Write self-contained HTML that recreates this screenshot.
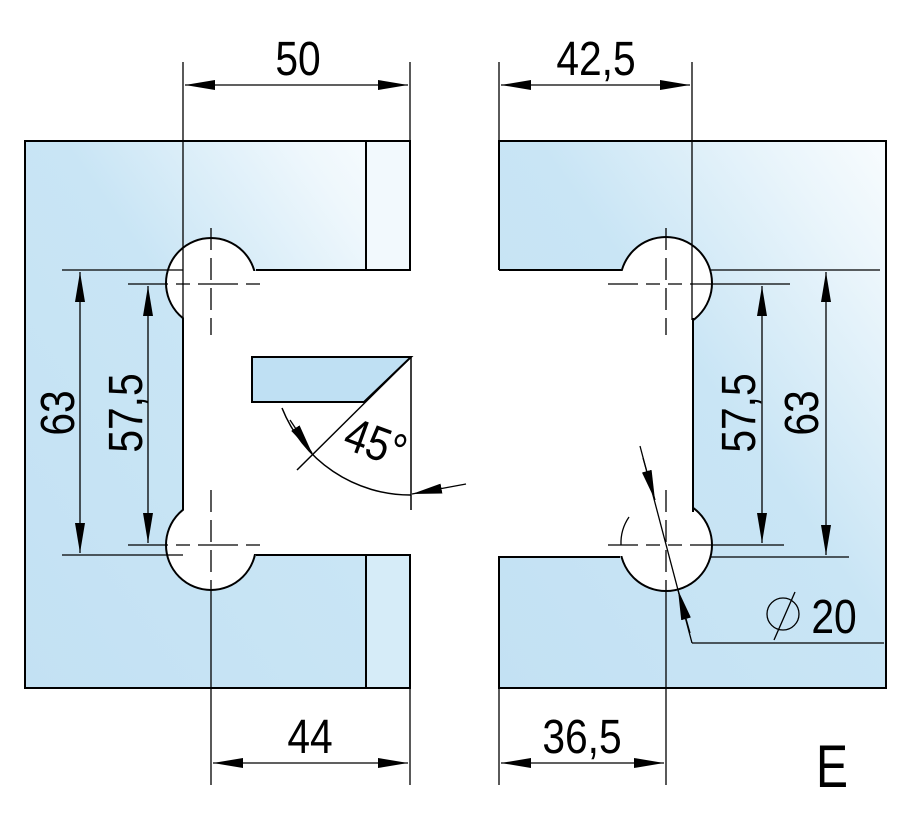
<!DOCTYPE html>
<html><head><meta charset="utf-8"><style>
html,body{margin:0;padding:0;background:#fff;}
svg{display:block;}
text{font-family:"Liberation Sans",sans-serif;fill:#000;}
</style></head><body>
<svg width="909" height="820" viewBox="0 0 909 820" xmlns="http://www.w3.org/2000/svg">
<defs>
<linearGradient id="gL" x1="0" y1="1" x2="1" y2="0">
<stop offset="0" stop-color="#c3e1f3"/><stop offset="0.55" stop-color="#c9e5f5"/><stop offset="0.85" stop-color="#eef7fc"/><stop offset="1" stop-color="#fafdff"/>
</linearGradient>
<linearGradient id="gR" x1="0" y1="1" x2="1" y2="0">
<stop offset="0" stop-color="#c3e1f3"/><stop offset="0.55" stop-color="#c9e5f5"/><stop offset="0.85" stop-color="#eaf5fb"/><stop offset="1" stop-color="#f8fcfe"/>
</linearGradient>
<marker id="a" viewBox="0 0 30 10" refX="30" refY="5" markerWidth="30" markerHeight="10" markerUnits="userSpaceOnUse" orient="auto-start-reverse"><path d="M0,0 L30,5 L0,10 Z" fill="#000"/></marker>
</defs>
<g stroke="#000" stroke-width="2" fill="none">
<!-- LEFT PART -->
<rect x="25" y="141" width="385" height="547" fill="url(#gL)"/>
<rect x="366" y="141" width="44" height="129" fill="#f2f9fd" stroke="none"/>
<rect x="366" y="555" width="44" height="133" fill="#d6ecf8" stroke="none"/>
<circle cx="211" cy="283" r="45" fill="#fff"/>
<circle cx="211" cy="545" r="45" fill="#fff"/>
<rect x="184" y="271" width="240" height="283" fill="#fff" stroke="none"/>
<line x1="256" y1="270" x2="410" y2="270"/>
<line x1="256" y1="555" x2="410" y2="555"/>
<line x1="183" y1="318" x2="183" y2="510"/>
<line x1="366" y1="141" x2="366" y2="270"/>
<line x1="366" y1="555" x2="366" y2="688"/>
<rect x="25" y="141" width="385" height="547"/>
<rect x="409" y="271" width="6" height="283" fill="#fff" stroke="none"/>
<!-- glass piece -->
<polygon points="252,357 411,357 364,402 252,402" fill="#bfe0f3"/>
<line x1="411" y1="357" x2="297" y2="470" stroke-width="1.5"/>
<line x1="411" y1="357" x2="411" y2="510" stroke-width="1.5"/>
<path d="M282,408 A138,138 0 0 0 411,495" stroke-width="1.5"/>
<line x1="290" y1="420" x2="312" y2="453" marker-end="url(#a)" stroke-width="1.3"/>
<line x1="466" y1="484" x2="412" y2="494" marker-end="url(#a)" stroke-width="1.3"/>
<!-- centerlines -->
<line x1="211" y1="228" x2="211" y2="335" stroke-dasharray="22,8" stroke-width="1.3"/>
<line x1="211" y1="490" x2="211" y2="590" stroke-dasharray="22,8" stroke-width="1.3"/>
<line x1="128" y1="284" x2="268" y2="284" stroke-dasharray="40,8,14,8" stroke-width="1.3"/>
<line x1="128" y1="545" x2="268" y2="545" stroke-dasharray="40,8,14,8" stroke-width="1.3"/>
<line x1="211" y1="590" x2="211" y2="785" stroke-width="1.3"/>
<!-- dims left -->
<line x1="62" y1="270" x2="183" y2="270" stroke-width="1.3"/>
<line x1="62" y1="555" x2="183" y2="555" stroke-width="1.3"/>
<line x1="80" y1="272" x2="80" y2="553" marker-start="url(#a)" marker-end="url(#a)" stroke-width="1.3"/>
<line x1="148" y1="286" x2="148" y2="543" marker-start="url(#a)" marker-end="url(#a)" stroke-width="1.3"/>
<line x1="183" y1="62" x2="183" y2="320" stroke-width="1.3"/>
<line x1="410" y1="62" x2="410" y2="141" stroke-width="1.3"/>
<line x1="185" y1="85" x2="408" y2="85" marker-start="url(#a)" marker-end="url(#a)" stroke-width="1.3"/>
<line x1="410" y1="688" x2="410" y2="785" stroke-width="1.3"/>
<line x1="213" y1="763" x2="408" y2="763" marker-start="url(#a)" marker-end="url(#a)" stroke-width="1.3"/>

<!-- RIGHT PART -->
<path d="M499,141 H886 V688 H499 V557 H693 V270 H499 Z" fill="url(#gR)" stroke="none"/>
<circle cx="666" cy="283" r="46" fill="#fff"/>
<circle cx="666" cy="545" r="46" fill="#fff"/>
<rect x="490" y="271" width="202" height="285" fill="#fff" stroke="none"/>
<path d="M499,270 V141 H886 V688 H499 V557 H620"/>
<line x1="499" y1="270" x2="621" y2="270"/>
<line x1="711" y1="270" x2="880" y2="270" stroke-width="1.3"/>
<line x1="711" y1="557" x2="849" y2="557" stroke-width="1.3"/>
<line x1="693" y1="318" x2="693" y2="512"/>
<path d="M629,517 A46,46 0 0 0 621,545" stroke-width="1.3"/>
<line x1="666" y1="228" x2="666" y2="335" stroke-dasharray="22,8" stroke-width="1.3"/>
<line x1="666" y1="490" x2="666" y2="590" stroke-dasharray="22,8" stroke-width="1.3"/>
<line x1="608" y1="284" x2="790" y2="284" stroke-dasharray="30,8,14,8,14,8,200" stroke-width="1.3"/>
<line x1="608" y1="545" x2="784" y2="545" stroke-dasharray="30,8,14,8,14,8,200" stroke-width="1.3"/>
<line x1="692" y1="62" x2="692" y2="320" stroke-width="1.3"/>
<line x1="499" y1="62" x2="499" y2="141" stroke-width="1.3"/>
<line x1="501" y1="85" x2="690" y2="85" marker-start="url(#a)" marker-end="url(#a)" stroke-width="1.3"/>
<line x1="666" y1="590" x2="666" y2="785" stroke-width="1.3"/>
<line x1="499" y1="688" x2="499" y2="785" stroke-width="1.3"/>
<line x1="501" y1="763" x2="664" y2="763" marker-start="url(#a)" marker-end="url(#a)" stroke-width="1.3"/>
<line x1="762" y1="286" x2="762" y2="543" marker-start="url(#a)" marker-end="url(#a)" stroke-width="1.3"/>
<line x1="826" y1="272" x2="826" y2="555" marker-start="url(#a)" marker-end="url(#a)" stroke-width="1.3"/>
<!-- diameter leader -->
<line x1="640" y1="446" x2="692" y2="643" stroke-width="1.3"/>
<line x1="643" y1="458" x2="655" y2="500" marker-end="url(#a)" stroke-width="1.3"/>
<line x1="690" y1="633" x2="678" y2="590" marker-end="url(#a)" stroke-width="1.3"/>
<line x1="692" y1="643" x2="884" y2="643" stroke-width="1.3"/>
<circle cx="783" cy="614" r="16" stroke-width="1.3"/>
<line x1="774" y1="640" x2="795" y2="592" stroke-width="1.3"/>
</g>
<g font-size="48">
<text transform="translate(298,75) scale(0.85,1)" text-anchor="middle">50</text>
<text transform="translate(596,75) scale(0.85,1)" text-anchor="middle">42,5</text>
<text transform="translate(310,753) scale(0.85,1)" text-anchor="middle">44</text>
<text transform="translate(582,753) scale(0.85,1)" text-anchor="middle">36,5</text>
<text transform="translate(74,413) rotate(-90) scale(0.85,1)" text-anchor="middle">63</text>
<text transform="translate(142,413) rotate(-90) scale(0.85,1)" text-anchor="middle">57,5</text>
<text transform="translate(755,413) rotate(-90) scale(0.85,1)" text-anchor="middle">57,5</text>
<text transform="translate(818,413) rotate(-90) scale(0.85,1)" text-anchor="middle">63</text>
<text transform="translate(370,458) rotate(20) scale(0.85,1)" text-anchor="middle">45°</text>
<text transform="translate(834,633) scale(0.85,1)" text-anchor="middle">20</text>
<text transform="translate(832,787) scale(0.8,1)" text-anchor="middle" font-size="60">E</text>
</g>
</svg>
</body></html>
